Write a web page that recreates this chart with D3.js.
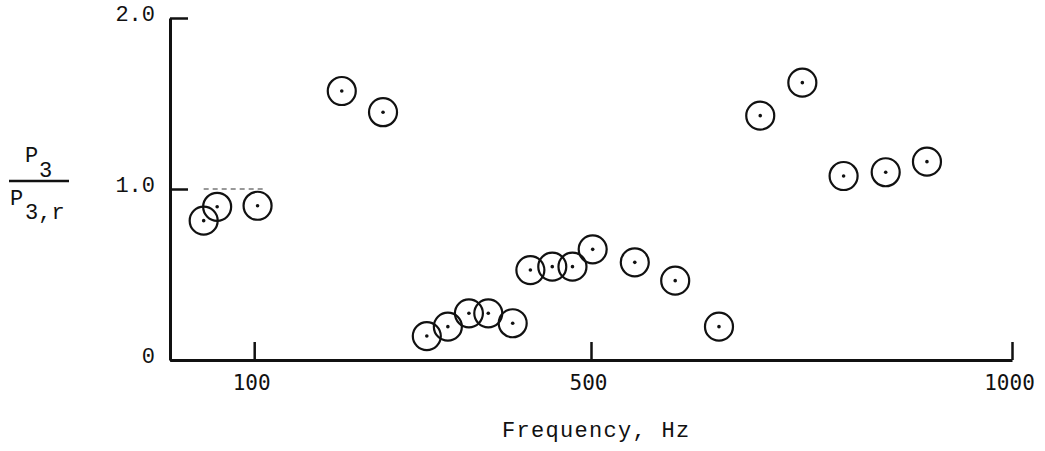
<!DOCTYPE html>
<html>
<head>
<meta charset="utf-8">
<script src="https://cdn.jsdelivr.net/npm/d3@7"></script>
<style>
  body { margin: 0; background: #fff; }
  svg { display: block; }
  text { fill: #111; }
</style>
</head>
<body>
<div id="grafico"></div>
<script>
// frecuencias (Hz) y razon P3 / P3,r
var frecuencias = [40, 56, 104, 204, 253, 305, 330, 355, 378, 407, 428, 454, 478, 502, 552, 600, 652, 701, 751, 800, 850, 899];
var razones     = [0.815, 0.896, 0.902, 1.573, 1.449, 0.14, 0.195, 0.273, 0.273, 0.215, 0.526, 0.546, 0.546, 0.647, 0.571, 0.464, 0.195, 1.429, 1.622, 1.076, 1.098, 1.16];

var ticksX = [100, 500, 1000];
var ticksY = [0, 1, 2];
var etiquetasY = ["0", "1.0", "2.0"];

// tramo discontinuo en 1.0 cerca del origen
var lineaRef = { desde: 40, hasta: 114, valor: 1 };

var ancho = 1045, alto = 451;

var svg = d3.select("#grafico")
    .append("svg")
    .attr("width", ancho)
    .attr("height", alto);

var x = d3.scaleLinear().domain([0, 1000]).range([170, 1012]);
var y = d3.scaleLinear().domain([0, 2]).range([360, 18]);

// eje x con marcas hacia arriba
var ejeX = svg.append("g")
    .attr("transform", "translate(0," + y(0) + ")")
    .call(d3.axisBottom(x)
        .tickValues(ticksX)
        .tickSize(-18)
        .tickSizeOuter(0)
        .tickPadding(15)
        .tickFormat(d3.format("d")));

ejeX.select(".domain").attr("stroke", "#111").attr("stroke-width", 3);
ejeX.selectAll(".tick line").attr("stroke", "#111").attr("stroke-width", 2.5);
ejeX.selectAll(".tick text")
    .attr("dx", "-3")
    .style("font-family", "'DejaVu Sans Mono', monospace")
    .style("font-size", "21px");

// eje y con marcas hacia la derecha
var ejeY = svg.append("g")
    .attr("transform", "translate(" + x(0) + ",0)")
    .call(d3.axisLeft(y)
        .tickValues(ticksY)
        .tickSize(-18)
        .tickSizeOuter(0)
        .tickPadding(15)
        .tickFormat(function (d, i) { return etiquetasY[i]; }));

ejeY.select(".domain").attr("stroke", "#111").attr("stroke-width", 3);
ejeY.selectAll(".tick line").attr("stroke", "#111").attr("stroke-width", 2.5);
ejeY.selectAll(".tick text")
    .attr("dy", "0.1em")
    .style("font-family", "'Liberation Mono', monospace")
    .style("font-size", "22px");

// linea discontinua de referencia
svg.append("line")
    .attr("x1", x(lineaRef.desde))
    .attr("x2", x(lineaRef.hasta))
    .attr("y1", y(lineaRef.valor))
    .attr("y2", y(lineaRef.valor))
    .attr("stroke", "#333")
    .attr("stroke-width", 1)
    .attr("stroke-dasharray", "5,4");

// puntos: circulo con punto central
var datos = frecuencias.map(function (f, i) { return { f: f, r: razones[i] }; });

var puntos = svg.selectAll(".punto")
    .data(datos)
    .enter()
    .append("g")
    .attr("class", "punto")
    .attr("transform", function (d) { return "translate(" + x(d.f) + "," + y(d.r) + ")"; });

puntos.append("circle")
    .attr("r", 14)
    .attr("fill", "none")
    .attr("stroke", "#111")
    .attr("stroke-width", 2.2);

puntos.append("circle")
    .attr("r", 1.8)
    .attr("fill", "#111");

// titulo del eje x
svg.append("text")
    .attr("x", 502)
    .attr("y", 437)
    .style("font-family", "'Liberation Mono', monospace")
    .style("font-size", "22px")
    .style("letter-spacing", "1.3px")
    .text("Frequency, Hz");

// titulo del eje y como fraccion P3 / P3,r
var fraccion = svg.append("g")
    .style("font-family", "'Liberation Mono', monospace")
    .style("font-size", "22px");

fraccion.append("text").attr("x", 25).attr("y", 162).text("P");
fraccion.append("text").attr("x", 39).attr("y", 177).text("3");
fraccion.append("line")
    .attr("x1", 9).attr("x2", 69)
    .attr("y1", 181).attr("y2", 181)
    .attr("stroke", "#111")
    .attr("stroke-width", 2.5);
fraccion.append("text").attr("x", 10).attr("y", 205).text("P");
fraccion.append("text").attr("x", 25).attr("y", 219).text("3,r");
</script>
</body>
</html>
